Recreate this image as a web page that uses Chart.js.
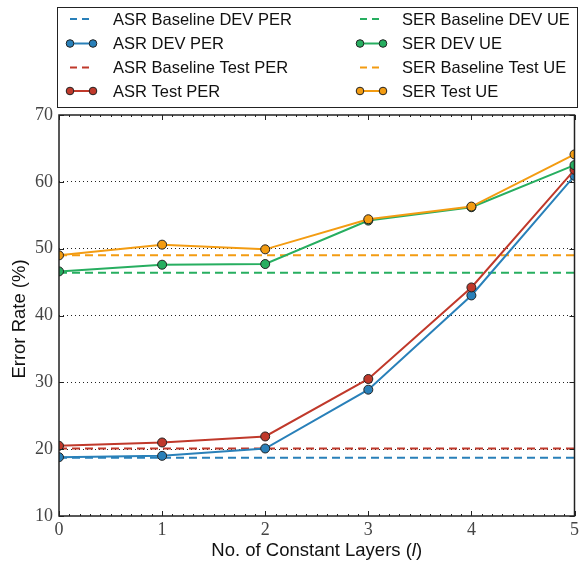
<!DOCTYPE html>
<html>
<head>
<meta charset="utf-8">
<script src="https://cdn.jsdelivr.net/npm/chart.js@4"></script>
<style>
  html, body { margin: 0; padding: 0; background: #fff; }
  #wrap { width: 582px; height: 563px; position: relative; }
</style>
</head>
<body>
<div id="wrap"><canvas id="chart"></canvas></div>
<script>
// Data
const layers = [0, 1, 2, 3, 4, 5];
const asrDevPer = [18.8, 19.0, 20.1, 28.9, 43.0, 60.9];
const asrTestPer = [20.5, 21.0, 21.9, 30.5, 44.2, 61.8];
const serDevUe = [46.6, 47.6, 47.7, 54.2, 56.2, 62.5];
const serTestUe = [49.0, 50.6, 49.9, 54.4, 56.3, 64.1];
const asrDevBase = 18.7;
const asrTestBase = 20.1;
const serDevBase = 46.4;
const serTestBase = 49.0;
const yTicks = [10, 20, 30, 40, 50, 60, 70];

const BLUE = '#2980b9', RED = '#c0392b', GREEN = '#27ae60', ORANGE = '#f39c12';
const SERIF = '"Liberation Serif", "DejaVu Serif", serif';
const SANS = '"Liberation Sans", Arial, sans-serif';

function pts(ys) { return layers.map((x, i) => ({ x: x, y: ys[i] })); }
function flat(v) { return [{ x: layers[0], y: v }, { x: layers[layers.length - 1], y: v }]; }

function baseline(label, v, color, order) {
  return {
    label: label, data: flat(v), borderColor: color, borderWidth: 2,
    borderDash: [8, 5], pointRadius: 0, order: order, dashed: true
  };
}
function series(label, ys, color, order) {
  return {
    label: label, data: pts(ys), borderColor: color, backgroundColor: color,
    borderWidth: 2, pointRadius: 4.5, pointBorderColor: '#222', pointBorderWidth: 1,
    pointBackgroundColor: color, order: order, dashed: false
  };
}

const datasets = [
  baseline('ASR Baseline DEV PER', asrDevBase, BLUE, 8),
  series('ASR DEV PER', asrDevPer, BLUE, 4),
  baseline('ASR Baseline Test PER', asrTestBase, RED, 7),
  series('ASR Test PER', asrTestPer, RED, 3),
  baseline('SER Baseline DEV UE', serDevBase, GREEN, 6),
  series('SER DEV UE', serDevUe, GREEN, 2),
  baseline('SER Baseline Test UE', serTestBase, ORANGE, 5),
  series('SER Test UE', serTestUe, ORANGE, 1)
];

// clip each dataset (lines and markers) to the plot box
const clipBox = {
  id: 'clipBox',
  beforeDatasetDraw(chart) {
    const a = chart.chartArea;
    const ctx = chart.ctx;
    ctx.save();
    ctx.beginPath();
    ctx.rect(a.left, a.top, a.right - a.left, a.bottom - a.top);
    ctx.clip();
  },
  afterDatasetDraw(chart) {
    chart.ctx.restore();
  }
};

// Frame, inward ticks, legend box and axis titles
const decor = {
  id: 'decor',
  afterDraw(chart) {
    const ctx = chart.ctx;
    const a = chart.chartArea;
    const xs = chart.scales.x, ys = chart.scales.y;
    ctx.save();
    ctx.strokeStyle = '#222';
    ctx.lineWidth = 1;
    // minor ticks along top and bottom
    ctx.beginPath();
    for (let v = 0; v <= 5.0001; v += 0.1) {
      const px = Math.round(xs.getPixelForValue(v)) + 0.5;
      ctx.moveTo(px, a.top); ctx.lineTo(px, a.top + 2);
      ctx.moveTo(px, a.bottom); ctx.lineTo(px, a.bottom - 2);
    }
    layers.forEach(v => {
      const px = Math.round(xs.getPixelForValue(v)) + 0.5;
      ctx.moveTo(px, a.top); ctx.lineTo(px, a.top + 5);
      ctx.moveTo(px, a.bottom); ctx.lineTo(px, a.bottom - 5);
    });
    yTicks.forEach(v => {
      const py = Math.round(ys.getPixelForValue(v)) + 0.5;
      ctx.moveTo(a.left, py); ctx.lineTo(a.left + 5, py);
      ctx.moveTo(a.right, py); ctx.lineTo(a.right - 5, py);
    });
    ctx.stroke();
    ctx.lineWidth = 1.5;
    ctx.strokeRect(a.left, a.top, a.right - a.left, a.bottom - a.top);

    // legend
    const lx = 57, ly = 7, lw = 520, lh = 100;
    ctx.fillStyle = '#fff';
    ctx.fillRect(lx, ly, lw, lh);
    ctx.lineWidth = 1;
    ctx.strokeStyle = '#222';
    ctx.strokeRect(lx + 0.5, ly + 0.5, lw, lh);
    const rowsY = [19, 43.5, 67.5, 91];
    const colX = [70, 360];
    const textX = [113, 402];
    ctx.font = '16.5px ' + SANS;
    ctx.textBaseline = 'middle';
    ctx.textAlign = 'left';
    chart.data.datasets.forEach((ds, i) => {
      const col = Math.floor(i / 4), row = i % 4;
      const y = rowsY[row], x0 = colX[col], x1 = x0 + 23;
      ctx.strokeStyle = ds.borderColor;
      ctx.lineWidth = 2;
      ctx.setLineDash(ds.dashed ? [7, 5] : []);
      ctx.beginPath(); ctx.moveTo(x0, y); ctx.lineTo(x1, y); ctx.stroke();
      ctx.setLineDash([]);
      if (!ds.dashed) {
        [x0, x1].forEach(cx => {
          ctx.beginPath(); ctx.arc(cx, y, 3.8, 0, Math.PI * 2);
          ctx.fillStyle = ds.borderColor; ctx.fill();
          ctx.strokeStyle = '#222'; ctx.lineWidth = 1; ctx.stroke();
        });
      }
      ctx.fillStyle = '#111';
      ctx.fillText(ds.label, textX[col], y + 1);
    });

    // axis titles
    ctx.fillStyle = '#111';
    ctx.font = '18.5px ' + SANS;
    ctx.textAlign = 'center';
    ctx.save();
    ctx.translate(20, 319);
    ctx.rotate(-Math.PI / 2);
    ctx.fillText('Error Rate (%)', 0, 0);
    ctx.restore();
    const p1 = 'No. of Constant Layers (', p2 = 'l', p3 = ')';
    ctx.font = '18.5px ' + SANS;
    const w1 = ctx.measureText(p1).width, w3 = ctx.measureText(p3).width;
    ctx.font = 'italic 18.5px ' + SANS;
    const w2 = ctx.measureText(p2).width;
    let sx = (a.left + a.right) / 2 - (w1 + w2 + w3) / 2;
    const ty = 551;
    ctx.textAlign = 'left';
    ctx.font = '18.5px ' + SANS;
    ctx.fillText(p1, sx, ty);
    ctx.font = 'italic 18.5px ' + SANS;
    ctx.fillText(p2, sx + w1, ty);
    ctx.font = '18.5px ' + SANS;
    ctx.fillText(p3, sx + w1 + w2, ty);
    ctx.restore();
  }
};

new Chart(document.getElementById('chart'), {
  type: 'line',
  data: { datasets: datasets },
  options: {
    responsive: true,
    maintainAspectRatio: false,
    animation: false,
    layout: { padding: { top: 115, right: 5, left: 0, bottom: 0 } },
    plugins: { legend: { display: false }, tooltip: { enabled: false } },
    scales: {
      x: {
        type: 'linear', min: 0, max: 5,
        afterFit(s) { s.height = 47; },
        afterBuildTicks(s) { s.ticks = layers.map(v => ({ value: v })); },
        grid: { display: false, drawTicks: false },
        border: { display: false },
        ticks: { color: '#444', padding: 3, font: { family: SERIF, size: 18 }, maxRotation: 0 }
      },
      y: {
        type: 'linear', min: 10, max: 70,
        afterFit(s) { s.width = 59; },
        afterBuildTicks(s) { s.ticks = yTicks.map(v => ({ value: v })); },
        grid: {
          drawTicks: false,
          color: ctx => (ctx.tick && (ctx.tick.value === 10 || ctx.tick.value === 70)) ? 'rgba(0,0,0,0)' : '#222',
          lineWidth: 1
        },
        border: { display: false, dash: [1, 3] },
        ticks: { color: '#444', padding: 6, font: { family: SERIF, size: 18 } }
      }
    }
  },
  plugins: [clipBox, decor]
});
</script>
</body>
</html>
